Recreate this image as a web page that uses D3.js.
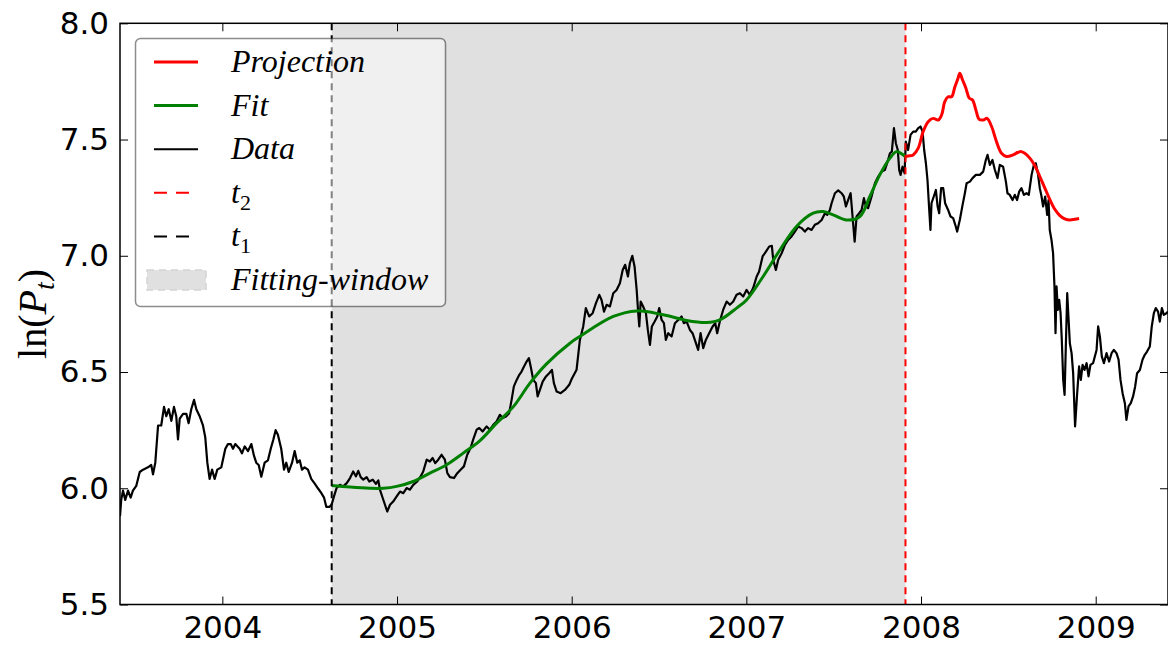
<!DOCTYPE html>
<html>
<head>
<meta charset="utf-8">
<script src="https://cdn.jsdelivr.net/npm/d3@7"></script>
<style>
  body { margin: 0; background: #fff; }
  svg { display: block; }
  .tick text { font-family: "DejaVu Sans", sans-serif; font-size: 31px; fill: #000; }
  .leg text { font-family: "Liberation Serif", serif; font-style: italic; font-size: 32px; }
</style>
</head>
<body>
<div id="chart"></div>
<script>
var dataYears = [
  2003.414,2003.421,2003.431,2003.444,2003.460,2003.475,2003.488,2003.507,2003.527,2003.546,2003.574,2003.593,2003.603,2003.616,2003.632,2003.650,2003.666,2003.679,2003.693,2003.708,2003.723,2003.736,2003.746,2003.756,2003.775,2003.794,2003.807,2003.822,2003.838,2003.851,2003.870,2003.889,2003.902,2003.914,2003.927,2003.941,2003.956,2003.971,2003.994,
  2004.017,2004.032,2004.048,2004.061,2004.074,2004.099,2004.112,2004.128,2004.147,2004.166,2004.181,2004.194,2004.208,2004.223,2004.242,2004.261,2004.277,2004.292,2004.305,2004.318,2004.337,2004.353,2004.366,2004.380,2004.399,2004.414,2004.429,2004.443,2004.456,2004.471,2004.490,2004.509,2004.529,2004.547,2004.566,2004.582,2004.595,2004.614,
  2004.626,2004.639,2004.654,2004.673,2004.692,2004.712,2004.731,2004.749,2004.765,2004.778,2004.792,2004.807,2004.826,2004.841,2004.861,2004.879,2004.893,2004.902,2004.918,2004.931,2004.944,2004.960,2004.978,2004.998,
  2005.017,2005.036,2005.055,2005.074,2005.093,2005.116,2005.135,2005.150,2005.170,2005.188,2005.204,2005.219,2005.236,2005.255,2005.274,2005.288,2005.303,2005.326,2005.345,2005.364,2005.383,2005.402,2005.421,2005.436,2005.456,2005.471,2005.490,2005.513,2005.532,2005.551,2005.570,2005.589,2005.605,2005.624,2005.642,2005.656,2005.669,2005.685,2005.700,2005.713,2005.727,2005.742,2005.755,2005.767,2005.780,2005.795,2005.805,2005.818,2005.834,2005.853,2005.871,2005.887,2005.898,2005.914,2005.937,2005.961,2005.986,
  2006.000,2006.028,2006.047,2006.066,2006.081,2006.100,2006.120,2006.139,2006.158,2006.171,2006.185,2006.200,2006.219,2006.238,2006.257,2006.276,2006.292,2006.306,2006.322,2006.333,2006.347,2006.360,2006.372,2006.381,2006.387,2006.395,2006.409,2006.425,2006.436,2006.448,2006.459,2006.475,2006.490,2006.501,2006.515,2006.528,2006.539,2006.553,2006.572,2006.591,2006.610,2006.629,2006.642,2006.658,2006.677,2006.692,2006.705,2006.724,2006.738,2006.753,2006.768,2006.787,2006.807,2006.822,2006.833,2006.848,2006.867,2006.887,2006.906,2006.925,2006.944,2006.963,2006.982,
  2007.001,2007.020,2007.039,2007.059,2007.073,2007.093,2007.112,2007.131,2007.146,2007.154,2007.169,2007.182,2007.202,2007.221,2007.239,2007.259,2007.278,2007.297,2007.316,2007.335,2007.354,2007.373,2007.392,2007.411,2007.431,2007.450,2007.463,2007.478,2007.488,2007.507,2007.526,2007.545,2007.558,2007.570,2007.583,2007.597,2007.608,2007.620,2007.631,2007.646,2007.660,2007.673,2007.684,2007.697,2007.717,2007.736,2007.755,2007.774,2007.793,2007.806,2007.822,2007.833,2007.845,2007.856,2007.867,2007.875,2007.883,2007.894,2007.906,2007.913,2007.926,2007.940,2007.955,2007.970,2007.984,2007.997,
  2008.009,2008.018,2008.028,2008.037,2008.047,2008.054,2008.060,2008.073,2008.085,2008.095,2008.104,2008.115,2008.127,2008.138,2008.155,2008.169,2008.184,2008.199,2008.207,2008.222,2008.238,2008.251,2008.261,2008.280,2008.295,2008.314,2008.337,2008.356,2008.371,2008.381,2008.394,2008.409,2008.423,2008.438,2008.451,2008.470,2008.486,2008.495,2008.508,2008.524,2008.537,2008.550,2008.562,2008.575,2008.589,2008.604,2008.617,2008.633,2008.646,2008.657,2008.669,2008.680,2008.690,2008.699,2008.711,2008.722,2008.730,2008.737,2008.747,2008.756,2008.764,2008.770,2008.776,2008.783,2008.791,2008.799,2008.806,2008.814,2008.822,2008.829,2008.837,2008.845,2008.852,2008.862,2008.871,2008.882,2008.894,2008.905,2008.915,2008.925,2008.936,2008.948,2008.959,2008.970,2008.985,
  2009.005,2009.014,2009.024,2009.035,2009.047,2009.062,2009.077,2009.091,2009.104,2009.119,2009.131,2009.142,2009.154,2009.167,2009.176,2009.188,2009.201,2009.214,2009.226,2009.237,2009.253,2009.268,2009.281,2009.294,2009.310,2009.321,2009.333,2009.344,2009.357,2009.367,2009.379,2009.390,2009.405,2009.414
];
var dataValues = [
  5.88,5.95,5.99,5.95,5.99,5.96,5.99,6.01,6.07,6.08,6.09,6.10,6.06,6.11,6.27,6.27,6.35,6.31,6.34,6.29,6.35,6.31,6.21,6.30,6.32,6.32,6.28,6.34,6.38,6.34,6.31,6.27,6.22,6.11,6.04,6.08,6.04,6.08,6.09,
  6.17,6.19,6.19,6.17,6.19,6.17,6.15,6.18,6.16,6.19,6.14,6.11,6.10,6.05,6.11,6.12,6.17,6.21,6.25,6.23,6.17,6.08,6.11,6.07,6.11,6.16,6.11,6.12,6.08,6.09,6.08,6.04,6.02,6.00,5.98,5.96,5.92,5.92,
  5.93,5.965,6.001,6.015,6.008,6.022,6.044,6.072,6.051,6.075,6.048,6.037,6.048,6.029,6.037,6.019,6.034,5.994,5.958,5.929,5.900,5.929,5.943,5.965,
  5.986,5.979,6.001,5.994,6.015,6.029,6.051,6.072,6.123,6.115,6.130,6.108,6.123,6.144,6.123,6.065,6.048,6.044,6.065,6.080,6.094,6.144,6.173,6.209,6.252,6.259,6.244,6.266,6.252,6.273,6.287,6.316,6.302,6.309,6.323,6.380,6.438,6.466,6.488,6.502,6.524,6.545,6.560,6.517,6.466,6.452,6.395,6.423,6.459,6.481,6.495,6.509,6.452,6.416,6.409,6.423,6.445,
  6.47,6.51,6.638,6.696,6.775,6.739,6.753,6.796,6.832,6.810,6.760,6.789,6.782,6.839,6.853,6.882,6.939,6.961,6.911,6.968,7.000,6.954,6.853,6.753,6.696,6.803,6.782,6.753,6.681,6.617,6.696,6.717,6.739,6.775,6.724,6.710,6.638,6.667,6.653,6.710,6.724,6.739,6.710,6.717,6.681,6.667,6.638,6.595,6.667,6.603,6.638,6.667,6.696,6.710,6.667,6.717,6.767,6.803,6.789,6.803,6.832,6.839,6.825,
  6.853,6.832,6.861,6.911,6.932,6.997,7.018,7.040,7.043,6.982,6.939,6.982,7.011,7.047,7.068,7.083,7.104,7.126,7.119,7.104,7.119,7.111,7.133,7.140,7.154,7.183,7.176,7.197,7.226,7.269,7.281,7.269,7.255,7.212,7.240,7.269,7.169,7.061,7.169,7.183,7.197,7.248,7.212,7.205,7.255,7.312,7.341,7.362,7.369,7.398,7.441,7.448,7.549,7.484,7.455,7.369,7.348,7.383,7.355,7.491,7.455,7.520,7.534,7.534,7.549,7.556,
  7.534,7.455,7.398,7.326,7.197,7.111,7.226,7.255,7.283,7.212,7.183,7.291,7.291,7.226,7.197,7.169,7.162,7.126,7.104,7.154,7.219,7.269,7.312,7.319,7.334,7.348,7.348,7.362,7.412,7.434,7.391,7.412,7.369,7.334,7.391,7.383,7.319,7.269,7.262,7.240,7.262,7.240,7.276,7.291,7.262,7.269,7.262,7.348,7.391,7.398,7.355,7.291,7.255,7.212,7.255,7.176,7.240,7.111,7.068,7.011,6.868,6.667,6.868,6.767,6.810,6.753,6.638,6.466,6.402,6.610,6.839,6.724,6.624,6.581,6.495,6.266,6.409,6.524,6.466,6.531,6.509,6.538,6.481,6.531,6.538,
  6.595,6.696,6.653,6.567,6.538,6.581,6.545,6.581,6.595,6.581,6.553,6.466,6.409,6.366,6.294,6.352,6.366,6.395,6.438,6.495,6.509,6.553,6.574,6.588,6.610,6.696,6.753,6.775,6.760,6.717,6.775,6.746,6.753,6.76
];

// fitted curve inside the window
var fitYears = [2004.626,2004.731,2004.845,2004.921,2004.998,2005.093,2005.188,2005.284,2005.379,2005.475,2005.570,2005.665,2005.761,2005.856,2005.990,2006.047,2006.238,2006.372,2006.524,2006.658,2006.772,2006.848,2006.944,2007.001,2007.096,2007.192,2007.287,2007.382,2007.440,2007.497,2007.574,2007.650,2007.707,2007.764,2007.822,2007.860,2007.898,2007.911];
var fitValues = [6.012,6.005,6.000,6.000,6.008,6.029,6.065,6.101,6.151,6.205,6.280,6.350,6.452,6.535,6.624,6.653,6.739,6.763,6.746,6.722,6.713,6.724,6.775,6.810,6.911,7.025,7.126,7.183,7.190,7.176,7.154,7.169,7.255,7.348,7.420,7.448,7.434,7.427];

// projection beyond t2
var projYears = [2007.911,2007.926,2007.955,2007.984,2008.012,2008.041,2008.070,2008.098,2008.118,2008.136,2008.155,2008.175,2008.194,2008.212,2008.222,2008.238,2008.257,2008.276,2008.295,2008.314,2008.333,2008.356,2008.378,2008.404,2008.432,2008.461,2008.490,2008.527,2008.566,2008.594,2008.623,2008.652,2008.680,2008.709,2008.737,2008.766,2008.795,2008.823,2008.852,2008.881,2008.905];
var projValues = [7.427,7.429,7.434,7.463,7.534,7.577,7.591,7.584,7.606,7.663,7.684,7.684,7.727,7.764,7.785,7.756,7.721,7.678,7.670,7.627,7.587,7.584,7.591,7.556,7.491,7.441,7.427,7.434,7.448,7.441,7.420,7.387,7.341,7.291,7.243,7.200,7.173,7.159,7.154,7.157,7.160];

var t1 = 2004.626, t2 = 2007.911;
var xTicks = [2004, 2005, 2006, 2007, 2008, 2009];
var yTicks = [5.5, 6.0, 6.5, 7.0, 7.5, 8.0];

var width = 1168, height = 645,
    margin = { top: 23.3, right: 0, bottom: 40.5, left: 120 },
    plotW = width - margin.left - margin.right,
    plotH = height - margin.top - margin.bottom;

var x = d3.scaleLinear().domain([2003.414, 2009.414]).range([0, plotW]);
var y = d3.scaleLinear().domain([5.5, 8.0]).range([plotH, 0]);

var svg = d3.select("#chart").append("svg")
    .attr("width", width)
    .attr("height", height);
var g = svg.append("g")
    .attr("transform", "translate(" + margin.left + "," + margin.top + ")");

g.append("clipPath").attr("id", "clip")
  .append("rect").attr("width", plotW).attr("height", plotH);

var plot = g.append("g").attr("clip-path", "url(#clip)");

// fitting window
plot.append("rect")
    .attr("x", x(t1)).attr("y", 0)
    .attr("width", x(t2) - x(t1)).attr("height", plotH)
    .attr("fill", "#e0e0e0");

var zip = function(xs, ys) { return xs.map(function(v, i) { return [v, ys[i]]; }); };
var line = d3.line().x(function(d) { return x(d[0]); }).y(function(d) { return y(d[1]); });
var smooth = d3.line().x(function(d) { return x(d[0]); }).y(function(d) { return y(d[1]); })
    .curve(d3.curveCatmullRom.alpha(0.5));

plot.append("path").datum(zip(dataYears, dataValues))
    .attr("d", line).attr("fill", "none")
    .attr("stroke", "#000").attr("stroke-width", 2.2).attr("stroke-linejoin", "round");

plot.append("path").datum(zip(fitYears, fitValues))
    .attr("d", smooth).attr("fill", "none")
    .attr("stroke", "#008000").attr("stroke-width", 3);

plot.append("path").datum(zip(projYears, projValues))
    .attr("d", smooth).attr("fill", "none")
    .attr("stroke", "#ff0000").attr("stroke-width", 3);

// t1 / t2 markers
plot.append("line")
    .attr("x1", x(t1)).attr("x2", x(t1)).attr("y1", 0).attr("y2", plotH)
    .attr("stroke", "#000").attr("stroke-width", 2).attr("stroke-dasharray", "7,5");
plot.append("line")
    .attr("x1", x(t2)).attr("x2", x(t2)).attr("y1", 0).attr("y2", plotH)
    .attr("stroke", "#ff0000").attr("stroke-width", 2).attr("stroke-dasharray", "7,5");

// axes, matplotlib classic: inward ticks on all four sides
var tickLen = 8;
g.append("g").attr("transform", "translate(0," + plotH + ")")
    .call(d3.axisBottom(x).tickValues(xTicks).tickFormat(d3.format("d"))
          .tickSizeInner(-tickLen).tickSizeOuter(0).tickPadding(11));
g.append("g")
    .call(d3.axisTop(x).tickValues(xTicks).tickFormat("")
          .tickSizeInner(-tickLen).tickSizeOuter(0));
g.append("g")
    .call(d3.axisLeft(y).tickValues(yTicks).tickFormat(d3.format(".1f"))
          .tickSizeInner(-tickLen).tickSizeOuter(0).tickPadding(11));
g.append("g").attr("transform", "translate(" + plotW + ",0)")
    .call(d3.axisRight(y).tickValues(yTicks).tickFormat("")
          .tickSizeInner(-tickLen).tickSizeOuter(0));
g.selectAll(".domain").remove();
g.selectAll(".tick line").attr("stroke", "#000").attr("stroke-width", 1);

g.append("rect")
    .attr("width", plotW).attr("height", plotH)
    .attr("fill", "none").attr("stroke", "#000").attr("stroke-width", 1.5);

// y label ln(P_t)
var ylab = svg.append("text")
    .attr("transform", "translate(46," + (margin.top + plotH / 2) + ") rotate(-90)")
    .attr("text-anchor", "middle")
    .style("font-family", "'Liberation Serif', serif")
    .style("font-size", "40px");
ylab.append("tspan").text("ln(");
ylab.append("tspan").style("font-style", "italic").text("P");
ylab.append("tspan").style("font-style", "italic").style("font-size", "28px")
    .attr("dy", 8).text("t");
ylab.append("tspan").attr("dy", -8).text(")");

// legend
var legend = svg.append("g").attr("class", "leg");
legend.append("rect")
    .attr("x", 135.5).attr("y", 38.5).attr("width", 310).attr("height", 268).attr("rx", 5)
    .attr("fill", "#fff").attr("fill-opacity", 0.5)
    .attr("stroke", "#000").attr("stroke-opacity", 0.45).attr("stroke-width", 1.5);

var legItems = [
  { label: "Projection", color: "#ff0000", w: 3, dash: null },
  { label: "Fit", color: "#008000", w: 3, dash: null },
  { label: "Data", color: "#000", w: 2, dash: null },
  { label: "t", sub: "2", color: "#ff0000", w: 2, dash: "13,9" },
  { label: "t", sub: "1", color: "#000", w: 2, dash: "13,9" },
  { label: "Fitting-window", patch: true }
];
legItems.forEach(function(d, i) {
  var cy = 62 + i * 43.6;
  if (d.patch) {
    legend.append("rect")
        .attr("x", 147).attr("y", cy - 10).attr("width", 59).attr("height", 20)
        .attr("fill", "#e0e0e0").attr("stroke", "#d4d4d4").attr("stroke-width", 1.5)
        .attr("stroke-dasharray", "7,5");
  } else {
    legend.append("line")
        .attr("x1", 154).attr("x2", 198).attr("y1", cy).attr("y2", cy)
        .attr("stroke", d.color).attr("stroke-width", d.w)
        .attr("stroke-dasharray", d.dash);
  }
  var t = legend.append("text").attr("x", 231).attr("y", cy + 10);
  t.append("tspan").text(d.label);
  if (d.sub) {
    t.append("tspan").attr("dy", 7).style("font-style", "normal").style("font-size", "22px").text(d.sub);
  }
});
</script>
</body>
</html>
